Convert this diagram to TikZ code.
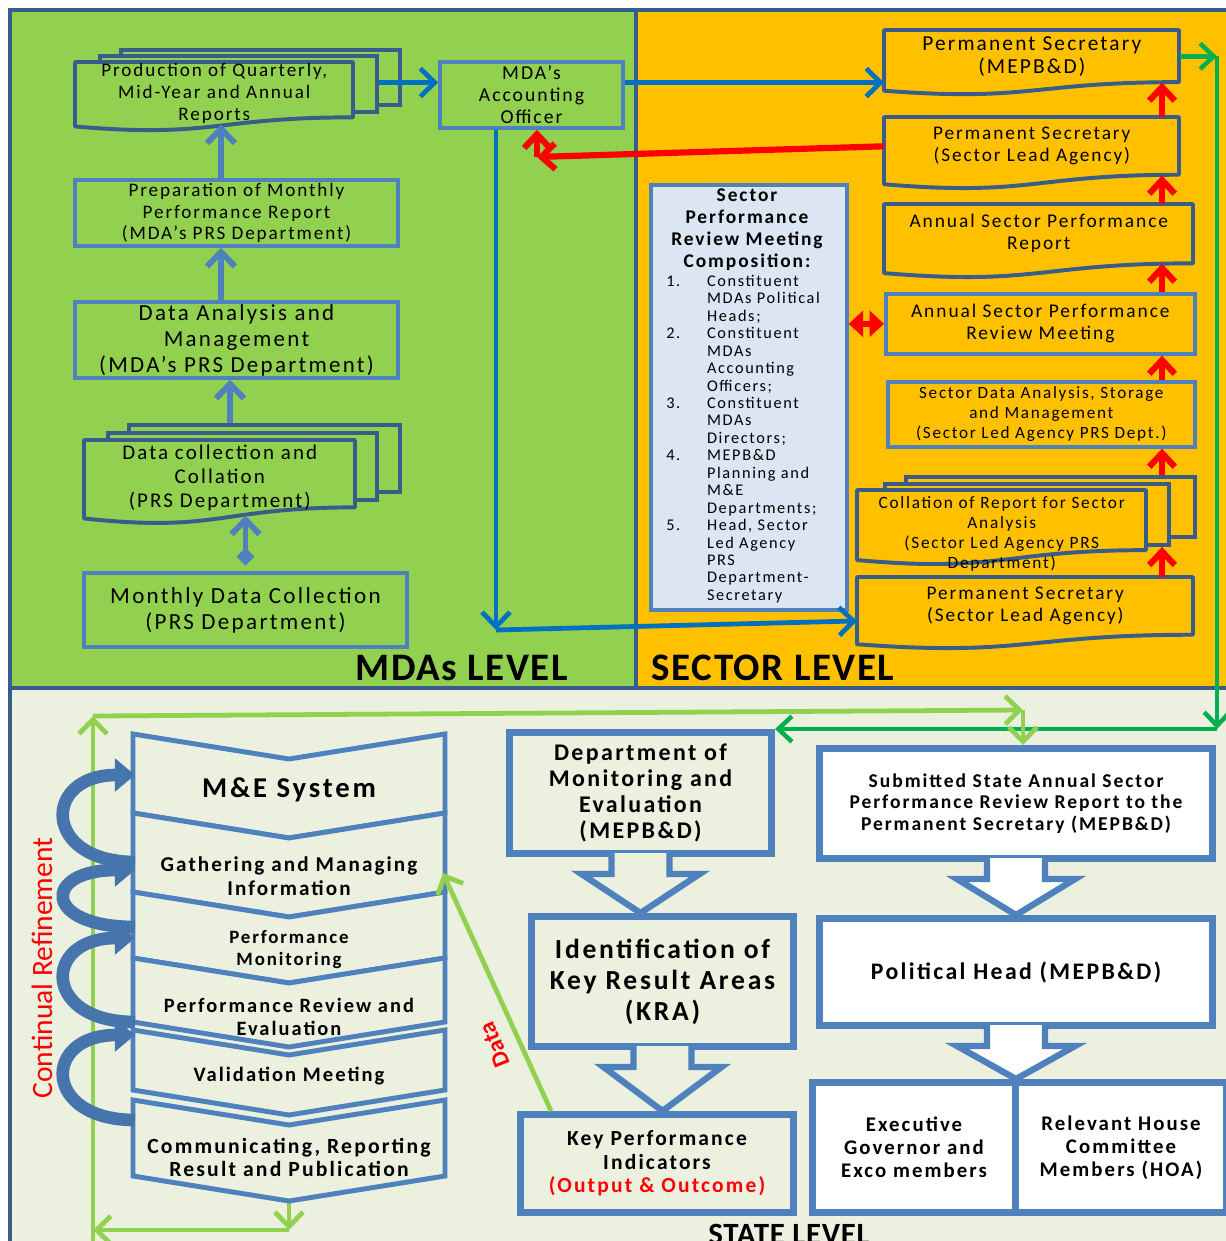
\documentclass[tikz,border=0pt]{standalone}
\usepackage{fontspec}
\setmainfont{Carlito}[LetterSpace=10]
\usetikzlibrary{arrows.meta,calc}
\definecolor{mdagreen}{HTML}{92D050}
\definecolor{sectorgold}{HTML}{FFC000}
\definecolor{statebg}{HTML}{EBF1DE}
\definecolor{frameblue}{HTML}{385D8A}
\definecolor{boxblue}{HTML}{4F81BD}
\definecolor{flowblue}{HTML}{0070C0}
\definecolor{flowred}{HTML}{FF0000}
\definecolor{flowgreen}{HTML}{00B050}
\definecolor{compfill}{HTML}{DCE6F2}
\definecolor{spiralblue}{HTML}{4674AC}
\tikzset{
  wh/.style 2 args={minimum width=#1*0.025cm, minimum height=#2*0.025cm},
  frameline/.style={draw=frameblue, line width=2.2pt},
  mdabox/.style={draw=boxblue, line width=2.6pt, fill=mdagreen, align=center, inner sep=0pt},
  sectorbox/.style={mdabox, fill=sectorgold},
  layerbox/.style={draw=frameblue, line width=2.8pt, inner sep=0pt},
  docedge/.style={draw=frameblue, line width=2.8pt, line join=round},
  doctext/.style={align=center, inner sep=0pt},
  compbox/.style={draw=boxblue, line width=2.6pt, fill=compfill, inner sep=0pt},
  statebox/.style={draw=boxblue, line width=5pt, fill=statebg, align=center, inner sep=0pt},
  whitebox/.style={statebox, fill=white},
  blockarr/.style={draw=boxblue, line width=4.5pt, line join=miter},
  chevband/.style={draw=boxblue, line width=3.5pt, fill=statebg, line join=miter},
  bluearr/.style={-{Straight Barb[length=3.6mm,width=7mm]}, line width=3.4pt, draw=flowblue},
  uparr/.style={-{Straight Barb[length=3.6mm,width=7mm]}, line width=4.2pt, draw=boxblue},
  redarr/.style={-{Straight Barb[length=3.4mm,width=6.4mm]}, line width=4.4pt, draw=flowred},
  greenarr/.style={-{Straight Barb[length=3.4mm,width=6.4mm]}, line width=3.2pt, draw=flowgreen},
  lgarr/.style={-{Straight Barb[length=3.6mm,width=7mm]}, line width=3.4pt, draw=mdagreen},
  spiralarr/.style={-{Triangle[length=5mm,width=8mm]}, line width=9pt, draw=spiralblue},
  levellabel/.style={font=\fontsize{27.7}{32}\selectfont\bfseries\addfontfeature{LetterSpace=4}}
}
% document outline: [style] x1 y1 x2 y2
\newcommand\docshape[5][]{%
  \pgfmathsetmacro\dya{#3+0.802*(#5-#3)}%
  \pgfmathsetmacro\dyb{#3+1.107*(#5-#3)}%
  \pgfmathsetmacro\dyc{#3+0.934*(#5-#3)}%
  \pgfmathsetmacro\dxm{0.5*(#2+#4)}%
  \draw[docedge,#1] (#2,#3) -- (#4,#3) -- (#4,\dya) .. controls (\dxm,\dya) and (\dxm,\dyb) .. (#2,\dyc) -- cycle;}
% block arrow from the bottom of #1 down to the top of #2
\newcommand\blockarrow[3]{%
  \draw[blockarr, fill=#3] ($(#1.south)+(-29,-4)$) -- ($(#1.south)+(-29,17)$) -- ($(#1.south)+(-59,17)$)
    -- (#1.south |- #2.north) -- ($(#1.south)+(59,17)$) -- ($(#1.south)+(29,17)$) -- ($(#1.south)+(29,-4)$);}

\begin{document}
\begin{tikzpicture}[x=0.025cm, y=-0.025cm]
  \useasboundingbox (0,0) rectangle (1225,1241);
  \fill[white] (0,0) rectangle (1225,1241);

  % levels
  \fill[mdagreen] (10,10) rectangle (636,688);
  \fill[sectorgold] (636,10) rectangle (1230,688);
  \fill[statebg] (10,688) rectangle (1230,1245);
  \draw[frameline] (10,1245) -- (10,10) -- (1230,10);
  \draw[frameline] (636,10) -- (636,688);
  \draw[frameline] (10,688) -- (1230,688);

  % MDAs level
  \node[layerbox, fill=mdagreen, wh={279}{55}, anchor=north west] (prod3) at (119,48) {};
  \node[layerbox, fill=mdagreen, wh={277}{56}, anchor=north west] (prod2) at (98,54) {};
  \docshape[fill=mdagreen]{75}{62}{353}{131}
  \node[doctext, wh={278}{62}, anchor=north west, font=\fontsize{13.6}{15.6}\selectfont] (prod) at (75,62) {Production of Quarterly,\\Mid-Year and Annual\\Reports};
  \node[mdabox, wh={183}{66}, font=\fontsize{14}{15.6}\selectfont] (ao) at (531.5,95) {MDA’s\\Accounting\\Officer};
  \node[mdabox, wh={323}{66}, font=\fontsize{13.6}{15.3}\selectfont] (prep) at (236.5,213) {Preparation of Monthly\\Performance Report\\(MDA’s PRS Department)};
  \node[mdabox, wh={323}{76}, font=\fontsize{16.3}{18.5}\selectfont] (dam) at (236.5,340) {Data Analysis and\\Management\\(MDA’s PRS Department)};
  \node[layerbox, fill=mdagreen, wh={271}{67}, anchor=north west] (dcc3) at (127,423) {};
  \node[layerbox, fill=mdagreen, wh={269}{67}, anchor=north west] (dcc2) at (106,431) {};
  \docshape[fill=mdagreen]{84}{440}{355}{524}
  \node[doctext, wh={271}{75}, anchor=north west, font=\fontsize{14.9}{17}\selectfont] (dcc) at (84,440) {Data collection and\\Collation\\(PRS Department)};
  \node[mdabox, wh={323}{74}, font=\fontsize{16.4}{18.5}\selectfont] (mdc) at (245.5,610) {Monthly Data Collection\\(PRS Department)};
  \node[levellabel] (mdalevel) at (462,668) {MDAs LEVEL};

  \coordinate (colA) at (221,0);
  \coordinate (colB) at (230,0);
  \draw[uparr] (colA |- prep.north) -- (colA |- prod.south);
  \draw[uparr] (colA |- dam.north) -- (colA |- prep.south);
  \draw[uparr] (colB |- dcc3.north) -- (colB |- dam.south);
  \draw[uparr, {Diamond[length=4.5mm,width=4.5mm]}-{Straight Barb[length=3.6mm,width=7mm]}] ([yshift=4pt]mdc.north) -- (mdc.north |- dcc.south);

  % sector level
  \docshape[fill=sectorgold]{884}{30}{1179}{95}
  \node[doctext, wh={295}{52}, anchor=north west, font=\fontsize{15.2}{16.4}\selectfont] (ps1) at (884,30) {Permanent Secretary\\(MEPB\&D)};
  \docshape[fill=sectorgold]{884}{117}{1179}{189}
  \node[doctext, wh={295}{58}, anchor=north west, font=\fontsize{13.7}{15.6}\selectfont] (ps2) at (884,117) {Permanent Secretary\\(Sector Lead Agency)};
  \docshape[fill=sectorgold]{884}{204}{1193}{278}
  \node[doctext, wh={309}{59}, anchor=north west, font=\fontsize{13.8}{15.6}\selectfont] (aspr) at (884,204) {Annual Sector Performance\\Report};
  \node[sectorbox, wh={309}{60}, anchor=north west, font=\fontsize{13.8}{15.6}\selectfont] (asprm) at (884,292) {Annual Sector Performance\\Review Meeting};
  \node[sectorbox, wh={307}{65}, anchor=north west, font=\fontsize{12.2}{14.2}\selectfont] (sdas) at (886,380) {Sector Data Analysis, Storage\\and Management\\(Sector Led Agency PRS Dept.)};
  \node[layerbox, fill=sectorgold, wh={289}{60}, anchor=north west] (coll3) at (904,475) {};
  \node[layerbox, fill=sectorgold, wh={284}{61}, anchor=north west] (coll2) at (883,482) {};
  \docshape[fill=sectorgold]{857}{490}{1146}{565}
  \node[doctext, wh={289}{60}, anchor=north west, font=\fontsize{12.3}{14.2}\selectfont] (coll) at (857,496) {Collation of Report for Sector\\Analysis\\(Sector Led Agency PRS\\Department)};
  \docshape[fill=sectorgold]{857}{577}{1193}{649}
  \node[doctext, wh={336}{58}, anchor=north west, font=\fontsize{13.7}{15.6}\selectfont] (ps3) at (857,577) {Permanent Secretary\\(Sector Lead Agency)};

  \node[compbox, wh={196}{425}, anchor=north west] (comp) at (649,183) {};
  \node[align=center, inner sep=0pt, font=\fontsize{13.8}{15.6}\selectfont\bfseries] (comphead) at (747,230) {Sector\\Performance\\Review Meeting\\Composition:};
  \node[anchor=north west, inner sep=0pt, font=\fontsize{11.6}{12.4}\selectfont] (complist) at (666,274) {%
    \begin{tabular}{@{}p{29pt}@{}l@{}}
      1. & Constituent\\
         & MDAs Political\\
         & Heads;\\
      2. & Constituent\\
         & MDAs\\
         & Accounting\\
         & Officers;\\
      3. & Constituent\\
         & MDAs\\
         & Directors;\\
      4. & MEPB\&D\\
         & Planning and\\
         & M\&E\\
         & Departments;\\
      5. & Head, Sector\\
         & Led Agency\\
         & PRS\\
         & Department-\\
         & Secretary
    \end{tabular}};
  \node[levellabel] (seclevel) at (773,668) {SECTOR LEVEL};

  \coordinate (colR) at (1162,0);
  \coordinate (redturn) at (537,157);
  \coordinate (aoturn) at (496,630);
  \draw[bluearr] (prod2.east |- ps1.south west) -- (ao.west |- ps1.south west);
  \draw[bluearr] (ao.east |- ps1.south west) -- (ps1.south west);
  \draw[bluearr] (aoturn |- ao.south) -- (aoturn);
  \draw[bluearr] (aoturn) -- ($(ps3.west)!0.5!(ps3.south west)$);
  \draw[redarr] (ps2.west) -- (redturn);
  \draw[redarr] (redturn) -- (redturn |- ao.south);
  \draw[redarr] (colR |- ps2.north) -- (colR |- ps1.south);
  \draw[redarr] (colR |- aspr.north) -- (colR |- ps2.south);
  \draw[redarr] (colR |- asprm.north) -- (colR |- aspr.south);
  \draw[redarr] (colR |- sdas.north) -- (colR |- asprm.south);
  \draw[redarr] (colR |- coll3.north) -- (colR |- sdas.south);
  \draw[redarr] (colR |- ps3.north) -- (colR |- coll2.south);
  \draw[redarr, {Triangle[length=3.6mm,width=6.4mm]}-{Triangle[length=3.6mm,width=6.4mm]}] (comp.east |- asprm.west) -- (asprm.west);

  % state level
  \node[statebox, wh={262}{121}, anchor=north west, font=\fontsize{17}{18.5}\selectfont\bfseries] (dme) at (506,729) {Department of\\Monitoring and\\Evaluation\\(MEPB\&D)};
  \node[statebox, wh={262}{130}, anchor=north west, font=\fontsize{19.6}{22}\selectfont\bfseries] (kra) at (528,913) {Identification of\\Key Result Areas\\(KRA)};
  \node[statebox, wh={273}{98}, anchor=north west, font=\fontsize{15.3}{16.7}\selectfont\bfseries] (kpi) at (517,1111) {Key Performance\\Indicators\\\textcolor{flowred}{(Output \& Outcome)}};
  \node[whitebox, wh={393}{110}, anchor=north west, font=\fontsize{13.9}{15.3}\selectfont\bfseries] (sub) at (816,745) {Submitted State Annual Sector\\Performance Review Report to the\\Permanent Secretary (MEPB\&D)};
  \node[whitebox, wh={393}{107}, anchor=north west, font=\fontsize{16.9}{18}\selectfont\bfseries] (pol) at (816,915) {Political Head (MEPB\&D)};
  \node[whitebox, wh={203}{130}, anchor=north west, font=\fontsize{14.8}{16.4}\selectfont\bfseries] (exe) at (809,1079) {Executive\\Governor and\\Exco members};
  \node[whitebox, wh={211}{130}, anchor=north west, font=\fontsize{14.8}{16.4}\selectfont\bfseries] (hoa) at (1012,1079) {Relevant House\\Committee\\Members (HOA)};
  \blockarrow{dme}{kra}{statebg}
  \blockarrow{kra}{kpi}{statebg}
  \blockarrow{sub}{pol}{white}
  \blockarrow{pol}{exe}{white}

  \coordinate (gturn) at (1217,0);
  \draw[greenarr] (ps1.east) -- (gturn |- ps1.east);
  \draw[greenarr] (gturn |- ps1.east) -- (gturn |- dme.north);
  \draw[greenarr] (gturn |- dme.north) -- (dme.north east);

  % refinement loop
  \coordinate (mebot) at (289,1200);
  \coordinate (lgb) at (289,1230);
  \coordinate (lgl) at (93,1230);
  \coordinate (lgt) at (93,716);
  \coordinate (lgr) at (1023,710);
  \draw[mdagreen, line width=3.4pt] (lgl) -- (93,1245);
  \draw[lgarr] (mebot) -- (lgb);
  \draw[lgarr] (lgb) -- (lgl);
  \draw[lgarr] (lgl) -- (lgt);
  \draw[lgarr] (lgt) -- (lgr);
  \draw[lgarr] (lgr) -- (lgr |- sub.north);

  % M&E system chevrons
  \foreach \top/\bot in {734/813, 813/892, 892/958, 958/1022, 1030/1090, 1100/1176}
    \draw[chevband] (133,\top) -- (289,\top+25) -- (445,\top) -- (445,\bot) -- (289,\bot+25) -- (133,\bot) -- cycle;
  \node[font=\fontsize{20.4}{23}\selectfont\bfseries] (me1) at (289,790) {M\&E System};
  \node[align=center, font=\fontsize{15}{17}\selectfont\bfseries] (me2) at (289,876) {Gathering and Managing\\Information};
  \node[align=center, font=\fontsize{13.4}{15.6}\selectfont\bfseries] (me3) at (289,950) {Performance\\Monitoring};
  \node[align=center, font=\fontsize{14.5}{16.4}\selectfont\bfseries] (me4) at (289,1017) {Performance Review and\\Evaluation};
  \node[font=\fontsize{14.6}{16.4}\selectfont\bfseries] (me5) at (289,1076) {Validation Meeting};
  \node[align=center, font=\fontsize{15.4}{16.4}\selectfont\bfseries] (me6) at (289,1157) {Communicating, Reporting\\Result and Publication};

  \coordinate (sp1t) at (135,862);  \coordinate (sp1h) at (135,775);
  \coordinate (sp2t) at (135,927);  \coordinate (sp2h) at (135,870);
  \coordinate (sp3t) at (135,1022); \coordinate (sp3h) at (135,938);
  \coordinate (sp4t) at (135,1120); \coordinate (sp4h) at (135,1035);
  \draw[spiralarr] (sp1t) .. controls (42,862) and (42,775) .. (sp1h);
  \draw[spiralarr] (sp2t) .. controls (42,927) and (42,870) .. (sp2h);
  \draw[spiralarr] (sp3t) .. controls (42,1022) and (42,938) .. (sp3h);
  \draw[spiralarr] (sp4t) .. controls (42,1120) and (42,1035) .. (sp4h);
  \node[rotate=90, text=flowred, font=\fontsize{21}{25}\selectfont\addfontfeature{LetterSpace=0}] (refine) at (42,968) {Continual Refinement};

  \coordinate (medata) at (443,873);
  \draw[lgarr] ($(kpi.north west)+(34,0)$) -- (medata);
  \node[rotate=112, text=flowred, font=\fontsize{17}{19}\selectfont\bfseries\addfontfeature{LetterSpace=0}] (datalbl) at (495,1045) {Data};
  \node[levellabel, font=\fontsize{22}{26}\selectfont\bfseries\addfontfeature{LetterSpace=2}] (statelevel) at (789,1234) {STATE LEVEL};
\end{tikzpicture}
\end{document}
